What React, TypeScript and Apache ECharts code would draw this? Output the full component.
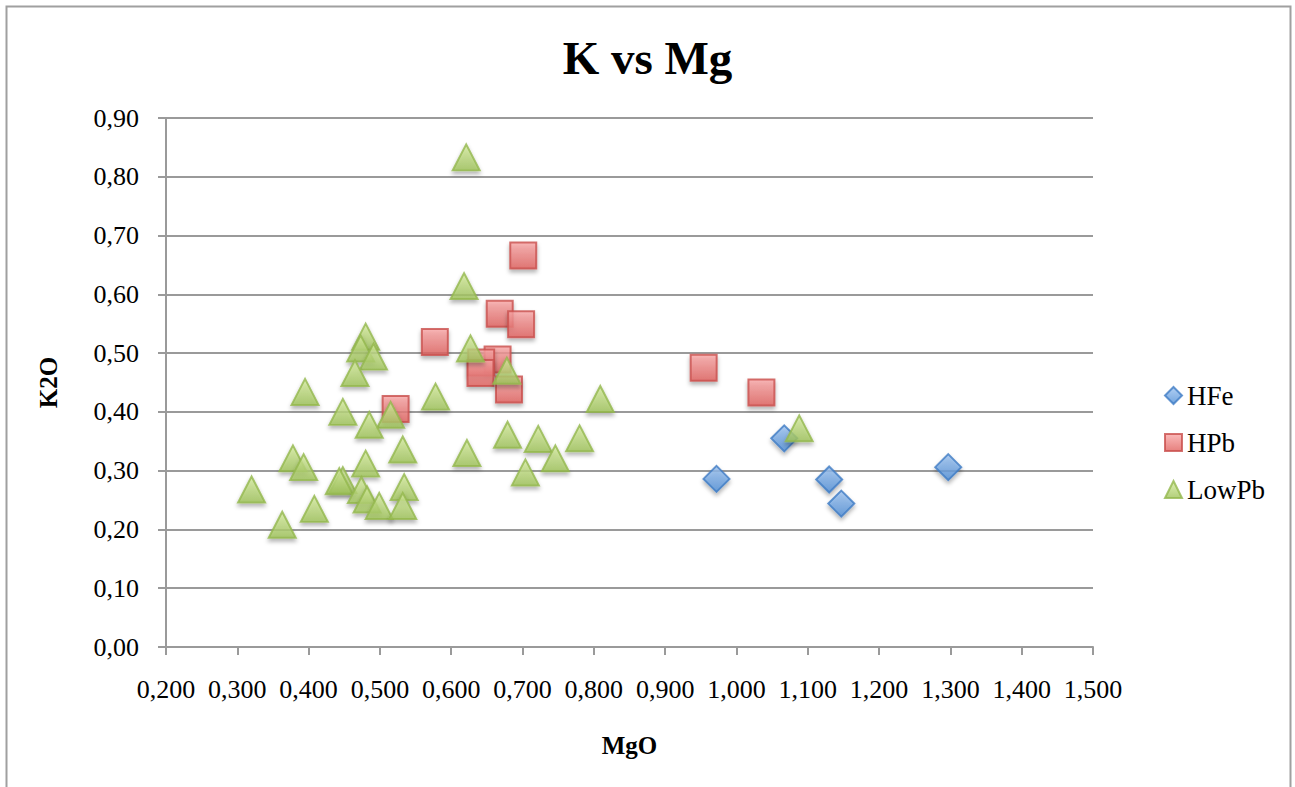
import React, { useEffect, useRef } from "react";
import * as echarts from "echarts";

const TITLE = "K vs Mg";
const X_NAME = "MgO";
const Y_NAME = "K2O";
const SERIES_NAMES = ["HFe", "HPb", "LowPb"];

const hfeMgO = [0.972, 1.067, 1.130, 1.147, 1.297];
const hfeK2O = [0.286, 0.355, 0.285, 0.244, 0.306];

const hpbMgO = [0.701, 0.668, 0.698, 0.577, 0.522, 0.665, 0.642, 0.641, 0.681, 0.954, 1.035];
const hpbK2O = [0.666, 0.567, 0.549, 0.519, 0.405, 0.489, 0.484, 0.466, 0.438, 0.475, 0.433];

const lowMgO = [
  0.621, 0.618, 0.480, 0.473, 0.491, 0.627, 0.465, 0.678, 0.395, 0.578, 0.809, 0.448,
  0.515, 0.485, 0.679, 0.722, 0.780, 0.532, 0.622, 0.746, 0.378, 0.393, 0.480, 0.704,
  0.448, 0.443, 0.320, 0.534, 0.474, 0.482, 0.499, 0.532, 0.408, 0.363, 1.088,
];
const lowK2O = [
  0.833, 0.614, 0.528, 0.508, 0.494, 0.508, 0.466, 0.470, 0.434, 0.426, 0.422, 0.400,
  0.395, 0.378, 0.361, 0.354, 0.355, 0.336, 0.330, 0.321, 0.321, 0.306, 0.312, 0.297,
  0.284, 0.282, 0.268, 0.272, 0.267, 0.251, 0.240, 0.240, 0.235, 0.208, 0.372,
];

const X_MIN = 0.2;
const X_MAX = 1.5;
const X_STEP = 0.1;
const Y_MIN = 0;
const Y_MAX = 0.9;
const Y_STEP = 0.1;

const FONT = "'Liberation Serif', 'DejaVu Serif', serif";

function pairs(xs: number[], ys: number[]) {
  return xs.map((x, i) => [x, ys[i]]);
}

function grad(top: string, bottom: string) {
  return new echarts.graphic.LinearGradient(0, 0, 0, 1, [
    { offset: 0, color: top },
    { offset: 1, color: bottom },
  ]);
}

export default function App() {
  const ref = useRef<HTMLDivElement>(null);

  useEffect(() => {
    if (!ref.current) return;
    const chart = echarts.init(ref.current, undefined, { renderer: "svg" });
    const shadow = {
      shadowBlur: 4,
      shadowOffsetX: 0,
      shadowOffsetY: 3,
      shadowColor: "rgba(0,0,0,0.35)",
    };
    const option = {
      animation: false,
      backgroundColor: "#ffffff",
      textStyle: { fontFamily: FONT, color: "#000" },
      title: {
        text: TITLE,
        left: "center",
        top: 29,
        textStyle: { fontFamily: FONT, fontSize: 47, fontWeight: "bold", color: "#000" },
      },
      grid: { left: 166, top: 118, width: 927, height: 529 },
      legend: {
        orient: "vertical",
        left: 1159,
        top: 377,
        itemWidth: 17,
        itemHeight: 17,
        itemGap: 20,
        textStyle: { fontFamily: FONT, fontSize: 27, color: "#000" },
        data: SERIES_NAMES,
      },
      xAxis: {
        type: "value",
        min: X_MIN,
        max: X_MAX,
        interval: X_STEP,
        name: X_NAME,
        nameLocation: "middle",
        nameGap: 86,
        nameTextStyle: { fontFamily: FONT, fontSize: 25, fontWeight: "bold", color: "#000" },
        axisLine: { show: true, onZero: false, lineStyle: { color: "#9a9a9a", width: 2 } },
        axisTick: { show: true, length: 8, lineStyle: { color: "#9a9a9a", width: 2 } },
        splitLine: { show: false },
        axisLabel: {
          margin: 29,
          fontFamily: FONT,
          fontSize: 26,
          color: "#000",
          formatter: (v: number) => v.toFixed(3).replace(".", ","),
        },
      },
      yAxis: {
        type: "value",
        min: Y_MIN,
        max: Y_MAX,
        interval: Y_STEP,
        name: Y_NAME,
        nameLocation: "middle",
        nameGap: 105,
        nameRotate: 90,
        nameTextStyle: { fontFamily: FONT, fontSize: 25, fontWeight: "bold", color: "#000" },
        axisLine: { show: true, lineStyle: { color: "#9a9a9a", width: 2 } },
        axisTick: { show: true, length: 8, lineStyle: { color: "#9a9a9a", width: 2 } },
        splitLine: { show: true, lineStyle: { color: "#9a9a9a", width: 2 } },
        axisLabel: {
          margin: 27,
          fontFamily: FONT,
          fontSize: 26,
          color: "#000",
          formatter: (v: number) => v.toFixed(2).replace(".", ","),
        },
      },
      series: [
        {
          name: SERIES_NAMES[0],
          type: "scatter",
          symbol: "diamond",
          symbolSize: [26, 26],
          data: pairs(hfeMgO, hfeK2O),
          itemStyle: {
            color: grad("#9ec3f0", "#4f8ed6"),
            borderColor: "#3f7cc4",
            borderWidth: 2,
            ...shadow,
          },
        },
        {
          name: SERIES_NAMES[1],
          type: "scatter",
          symbol: "rect",
          symbolSize: [26, 26],
          data: pairs(hpbMgO, hpbK2O),
          itemStyle: {
            color: grad("#f9a8a8", "#e0615e"),
            borderColor: "#c94f4c",
            borderWidth: 2,
            ...shadow,
          },
        },
        {
          name: SERIES_NAMES[2],
          type: "scatter",
          symbol: "triangle",
          symbolSize: [27, 26],
          data: pairs(lowMgO, lowK2O),
          itemStyle: {
            color: grad("#d6eca0", "#9fc35a"),
            borderColor: "#93b84e",
            borderWidth: 2,
            ...shadow,
          },
        },
      ],
      graphic: [
        {
          type: "rect",
          shape: { x: 6.5, y: 6.5, width: 1284, height: 800 },
          style: { fill: "none", stroke: "#a0a0a0", lineWidth: 2 },
          silent: true,
          z: 100,
        },
      ],
    };
    chart.setOption(option as any);
    return () => chart.dispose();
  }, []);

  return (
    <div
      ref={ref}
      style={{ position: "fixed", left: 0, top: 0, width: 1295, height: 787 }}
    />
  );
}
